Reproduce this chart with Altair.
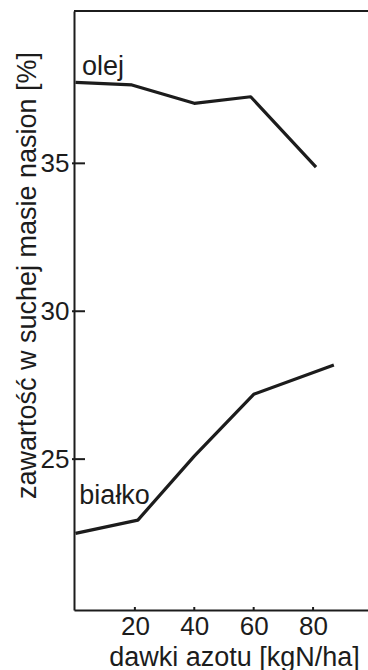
import altair as alt
import pandas as pd

# data
olej_x = [0, 19, 40, 59, 81]
olej_y = [37.74, 37.65, 37.03, 37.25, 34.87]
bialko_x = [0, 21, 40, 60, 87]
bialko_y = [22.49, 22.94, 25.1, 27.19, 28.18]

x_ticks = [20, 40, 60, 80]
y_ticks = [25, 30, 35]

label_text = ["olej", "białko"]
label_x = [2.2, 1.3]
label_y = [38.0, 23.5]

W, H = 294, 599
FONT = "Liberation Sans"
INK = "#1c1c1c"

df = pd.DataFrame(
    {"x": olej_x + bialko_x,
     "y": olej_y + bialko_y,
     "s": ["olej"] * len(olej_x) + ["białko"] * len(bialko_x)}
)
labels = pd.DataFrame({"t": label_text, "x": label_x, "y": label_y})
xt = pd.DataFrame({"v": x_ticks})
yt = pd.DataFrame({"v": y_ticks})

xs = alt.Scale(domain=[-0.5, 98.5], nice=False, zero=False)
ys = alt.Scale(domain=[19.9, 40.15], nice=False, zero=False)

x_axis = alt.Axis(
    values=x_ticks, title="dawki azotu [kgN/ha]", grid=False, ticks=False, tickSize=0,
    labelFontSize=26, labelFont=FONT, labelColor=INK, labelPadding=3,
    domainColor=INK, domainWidth=2,
    titleFont=FONT, titleFontSize=27, titleFontWeight="normal", titleColor=INK,
    titleX=160, titleY=55, titleBaseline="alphabetic", titleAnchor="start", titleAlign="center",
)
y_axis = alt.Axis(
    values=y_ticks, title="zawartość w suchej masie nasion [%]", grid=False, ticks=False, tickSize=0,
    labelFontSize=26, labelFont=FONT, labelColor=INK, labelPadding=5,
    domainColor=INK, domainWidth=2,
    titleFont=FONT, titleFontSize=27, titleFontWeight="normal", titleColor=INK,
    titleAngle=270, titleX=-39, titleY=264, titleBaseline="alphabetic", titleAlign="center",
)

lines = alt.Chart(df).mark_line(color=INK, strokeWidth=3.2, strokeJoin="round").encode(
    x=alt.X("x:Q", scale=xs, axis=x_axis),
    y=alt.Y("y:Q", scale=ys, axis=y_axis),
    detail="s:N",
)

texts = alt.Chart(labels).mark_text(
    align="left", baseline="alphabetic", font=FONT, fontSize=27, color=INK
).encode(
    x=alt.X("x:Q", scale=xs),
    y=alt.Y("y:Q", scale=ys),
    text="t:N",
)

ytick_marks = alt.Chart(yt).mark_rule(color=INK, strokeWidth=2).encode(
    y=alt.Y("v:Q", scale=ys),
    x=alt.value(-2),
    x2=alt.value(11),
)
xtick_marks = alt.Chart(xt).mark_rule(color=INK, strokeWidth=2).encode(
    x=alt.X("v:Q", scale=xs),
    y=alt.value(H),
    y2=alt.value(H - 3),
)
top_border = alt.Chart(xt).mark_rule(color=INK, strokeWidth=2).encode(
    y=alt.value(0),
    x=alt.value(0),
    x2=alt.value(W),
)

chart = (
    alt.layer(lines, texts, ytick_marks, xtick_marks, top_border)
    .properties(
        width=W, height=H,
        autosize=alt.AutoSizeParams(type="none"),
        padding={"left": 74, "top": 11, "right": 0, "bottom": 60},
        background="white",
    )
    .configure_view(stroke=None)
)

chart.save("out.html", embed_options={"renderer": "svg", "actions": False})
